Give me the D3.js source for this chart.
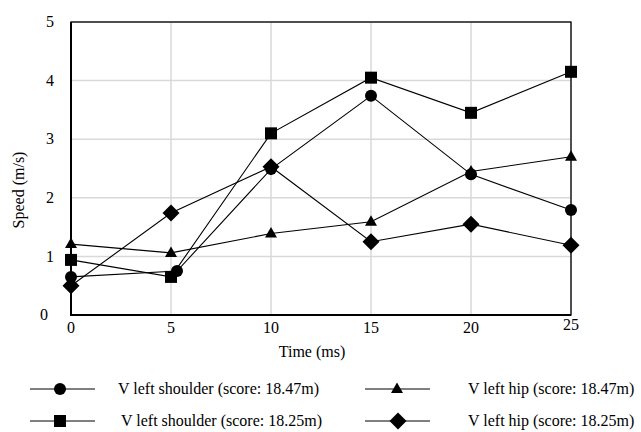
<!DOCTYPE html>
<html lang="en">
<head>
  <meta charset="utf-8">
  <title>Speed over time</title>
  <script src="https://d3js.org/d3.v7.min.js"></script>
  <style>
  body { margin: 0; background: #fff; }
  text {
      font-family: "Liberation Serif", "Times New Roman", serif;
      font-size: 16px;
      fill: #000;
  }
  </style>
</head>
<body>
  <script>
    // data
    var times = [0, 5, 10, 15, 20, 25];
    var timesShifted = [0, 5.3, 10, 15, 20, 25]; // circle at 5 sits a bit right of the grid line
    var shoulder1847 = [0.65, 0.75, 2.49, 3.74, 2.40, 1.79];
    var shoulder1825 = [0.94, 0.65, 3.10, 4.05, 3.45, 4.15];
    var hip1847 = [1.21, 1.06, 1.39, 1.59, 2.45, 2.70];
    var hip1825 = [0.50, 1.74, 2.53, 1.25, 1.55, 1.19];
    var xTicks = [0, 5, 10, 15, 20, 25];
    var yTicks = [0, 1, 2, 3, 4, 5];

    var series = [
      { name: 'V left shoulder (score: 18.47m)', xs: timesShifted, ys: shoulder1847, shape: 'circle' },
      { name: 'V left shoulder (score: 18.25m)', xs: times, ys: shoulder1825, shape: 'square' },
      { name: 'V left hip (score: 18.47m)', xs: times, ys: hip1847, shape: 'triangle' },
      { name: 'V left hip (score: 18.25m)', xs: times, ys: hip1825, shape: 'diamond' }
    ];

    var w = 641, h = 432;
    // note: "top" is taken by window.top, so plot edges get their own names
    var pLeft = 71, pRight = 571, pTop = 22, pBottom = 315;

    var x = d3.scaleLinear().domain([0, 25]).range([pLeft, pRight]);
    var y = d3.scaleLinear().domain([0, 5]).range([pBottom, pTop]);

    var svg = d3.select('body').append('svg')
      .attr('width', w)
      .attr('height', h);

    // marker shapes
    function marker(shape) {
      if (shape === 'circle') return d3.symbol().type(d3.symbolCircle).size(Math.PI * 36)();
      if (shape === 'square') return 'M-6,-6H6V6H-6Z';
      if (shape === 'triangle') return 'M0,-6.5L6,4L-6,4Z';
      return 'M0,-8.5L8.5,0L0,8.5L-8.5,0Z';
    }

    // grid
    svg.append('g').selectAll('line')
      .data(xTicks)
      .enter().append('line')
      .attr('x1', function(d) { return x(d); })
      .attr('x2', function(d) { return x(d); })
      .attr('y1', pTop).attr('y2', pBottom)
      .attr('stroke', '#d9d9d9').attr('stroke-width', 1.5);

    svg.append('g').selectAll('line')
      .data(yTicks)
      .enter().append('line')
      .attr('x1', pLeft).attr('x2', pRight)
      .attr('y1', function(d) { return y(d); })
      .attr('y2', function(d) { return y(d); })
      .attr('stroke', '#d9d9d9').attr('stroke-width', 1.5);

    // frame
    svg.append('rect')
      .attr('x', pLeft).attr('y', pTop)
      .attr('width', pRight - pLeft).attr('height', pBottom - pTop)
      .attr('fill', 'none').attr('stroke', '#000').attr('stroke-width', 1.3);
    svg.append('line')
      .attr('x1', pLeft).attr('y1', pTop).attr('x2', pLeft).attr('y2', pBottom + 1)
      .attr('stroke', '#000').attr('stroke-width', 2);
    svg.append('line')
      .attr('x1', pLeft).attr('y1', pBottom).attr('x2', pRight).attr('y2', pBottom)
      .attr('stroke', '#000').attr('stroke-width', 2);

    // tick labels
    svg.append('g').selectAll('text')
      .data(xTicks)
      .enter().append('text')
      .attr('x', function(d) { return x(d); })
      .attr('y', function(d) { return d === 25 ? 330 : 333; })
      .attr('text-anchor', 'middle')
      .text(function(d) { return d; });

    svg.append('g').selectAll('text')
      .data(yTicks)
      .enter().append('text')
      .attr('x', function(d) { return d === 0 ? 48 : 54; })
      .attr('y', function(d) { return y(d); })
      .attr('dy', '0.32em')
      .attr('text-anchor', 'end')
      .text(function(d) { return d; });

    // axis titles
    svg.append('text')
      .attr('x', 312).attr('y', 357)
      .attr('text-anchor', 'middle')
      .text('Time (ms)');

    svg.append('text')
      .attr('transform', 'translate(24,190) rotate(-90)')
      .attr('text-anchor', 'middle')
      .text('Speed (m/s)');

    // series
    var line = d3.line()
      .x(function(d) { return x(d[0]); })
      .y(function(d) { return y(d[1]); });

    series.forEach(function(s) {
      var pts = s.xs.map(function(t, i) { return [t, s.ys[i]]; });
      svg.append('path')
        .datum(pts)
        .attr('d', line)
        .attr('fill', 'none')
        .attr('stroke', '#000')
        .attr('stroke-width', 1.1);
      svg.append('g').selectAll('path')
        .data(pts)
        .enter().append('path')
        .attr('d', marker(s.shape))
        .attr('transform', function(d) { return 'translate(' + x(d[0]) + ',' + y(d[1]) + ')'; })
        .attr('fill', '#000');
    });

    // legend: shoulders on the left, hips on the right
    var legendPos = [
      { lx: 30, mx: 60, tx: 118, ty: 389 },
      { lx: 30, mx: 60, tx: 121, ty: 421 },
      { lx: 365, mx: 397, tx: 468, ty: 389 },
      { lx: 365, mx: 398, tx: 468, ty: 421 }
    ];

    var legend = svg.append('g').selectAll('g')
      .data(series)
      .enter().append('g');

    legend.append('line')
      .attr('x1', function(d, i) { return legendPos[i].lx; })
      .attr('x2', function(d, i) { return legendPos[i].lx + 65; })
      .attr('y1', function(d, i) { return legendPos[i].ty; })
      .attr('y2', function(d, i) { return legendPos[i].ty; })
      .attr('stroke', '#000').attr('stroke-width', 1.1);

    legend.append('path')
      .attr('d', function(d) { return marker(d.shape); })
      .attr('transform', function(d, i) { return 'translate(' + legendPos[i].mx + ',' + legendPos[i].ty + ')'; })
      .attr('fill', '#000');

    legend.append('text')
      .attr('x', function(d, i) { return legendPos[i].tx; })
      .attr('y', function(d, i) { return legendPos[i].ty; })
      .attr('dy', '0.32em')
      .text(function(d) { return d.name; });
  </script>
</body>
</html>
